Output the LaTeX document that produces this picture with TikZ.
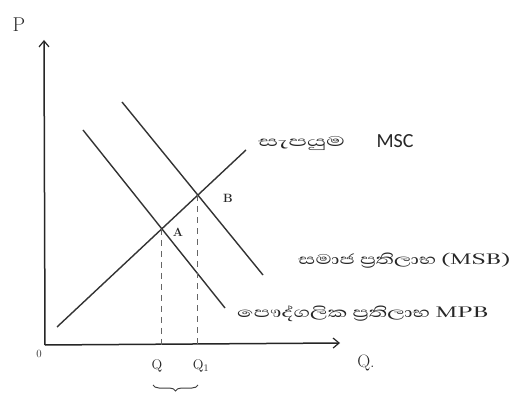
\documentclass[tikz,border=0pt]{standalone}
\usepackage{fontspec}
\newfontfamily\sinhalafnt[Script=Sinhala]{Abhaya Libre}
\newfontfamily\calibfnt{Carlito}
\usetikzlibrary{arrows.meta,intersections,decorations.pathreplacing}
\tikzset{
  curve/.style={line width=1.4pt,draw=black!80},
  axis/.style={line width=1.5pt,draw=black!85,-{Straight Barb[length=6pt,width=10pt,line width=1.2pt]}},
  guide/.style={line width=1pt,draw=black!60,dash pattern=on 6pt off 5pt},
  lbl/.style={inner sep=0pt,text=black!85},
  sl/.style={lbl,font=\sinhalafnt\fontsize{18}{18}\selectfont},
}
\newcommand{\wide}[2]{\scalebox{#1}[1]{#2}}
\begin{document}
\begin{tikzpicture}[x=1pt,y=-1pt]
\useasboundingbox[fill=white] (0,0) rectangle (522,403);
% axes
\coordinate (O) at (45,345);
\coordinate (Ytop) at (44,40);
\coordinate (Xend) at (340,343);
\draw[axis] (O) -- (Ytop);
\draw[axis] (O) -- (Xend);
\node[lbl,font=\fontsize{20}{20}\selectfont] (P) at (19,25) {P};
\node[lbl,font=\fontsize{18}{18}\selectfont] (Qax) at (366,363) {Q.};
\node[lbl,font=\fontsize{11}{11}\selectfont] (zero) at (39,354) {0};
% curves
\coordinate (s1) at (57,327);
\coordinate (s2) at (246,150);
\coordinate (d1a) at (83,130);
\coordinate (d1b) at (225,308);
\coordinate (d2a) at (122,102);
\coordinate (d2b) at (263,275);
\draw[curve,name path=S] (s1) -- (s2);
\draw[curve,name path=D1] (d1a) -- (d1b);
\draw[curve,name path=D2] (d2a) -- (d2b);
\path[name intersections={of=S and D1,by=A}];
\path[name intersections={of=S and D2,by=B}];
\coordinate (Qa) at (A |- O);
\coordinate (Qb) at (B |- O);
\draw[guide] (A) -- (Qa);
\draw[guide] (B) -- (Qb);
\node[lbl,font=\bfseries\fontsize{12}{12}\selectfont] (Al) at (178,232) {A};
\node[lbl,font=\bfseries\fontsize{12}{12}\selectfont] (Bl) at (228,198) {B};
\node[lbl,font=\fontsize{14}{14}\selectfont] (Q0) at (157,366) {Q};
\node[lbl,font=\fontsize{14}{14}\selectfont] (Q1) at (201,366) {Q$_1$};
\draw[line width=1pt,black!75,decorate,decoration={brace,mirror,amplitude=6pt}] (153,385) -- (198,385);
% labels
\node[sl,anchor=west] (Sup) at (258,143) {\wide{1.75}{සැපයුම}};
\node[lbl,font=\calibfnt\fontsize{20}{20}\selectfont] (MSC) at (395,141) {MSC};
\node[sl,anchor=west] (MSB) at (298,261) {\wide{1.5}{සමාජ ප්‍රතිලාභ (MSB)}};
\node[sl,anchor=west] (MPB) at (237,314) {\wide{1.53}{පෞද්ගලික ප්‍රතිලාභ MPB}};
\end{tikzpicture}
\end{document}
